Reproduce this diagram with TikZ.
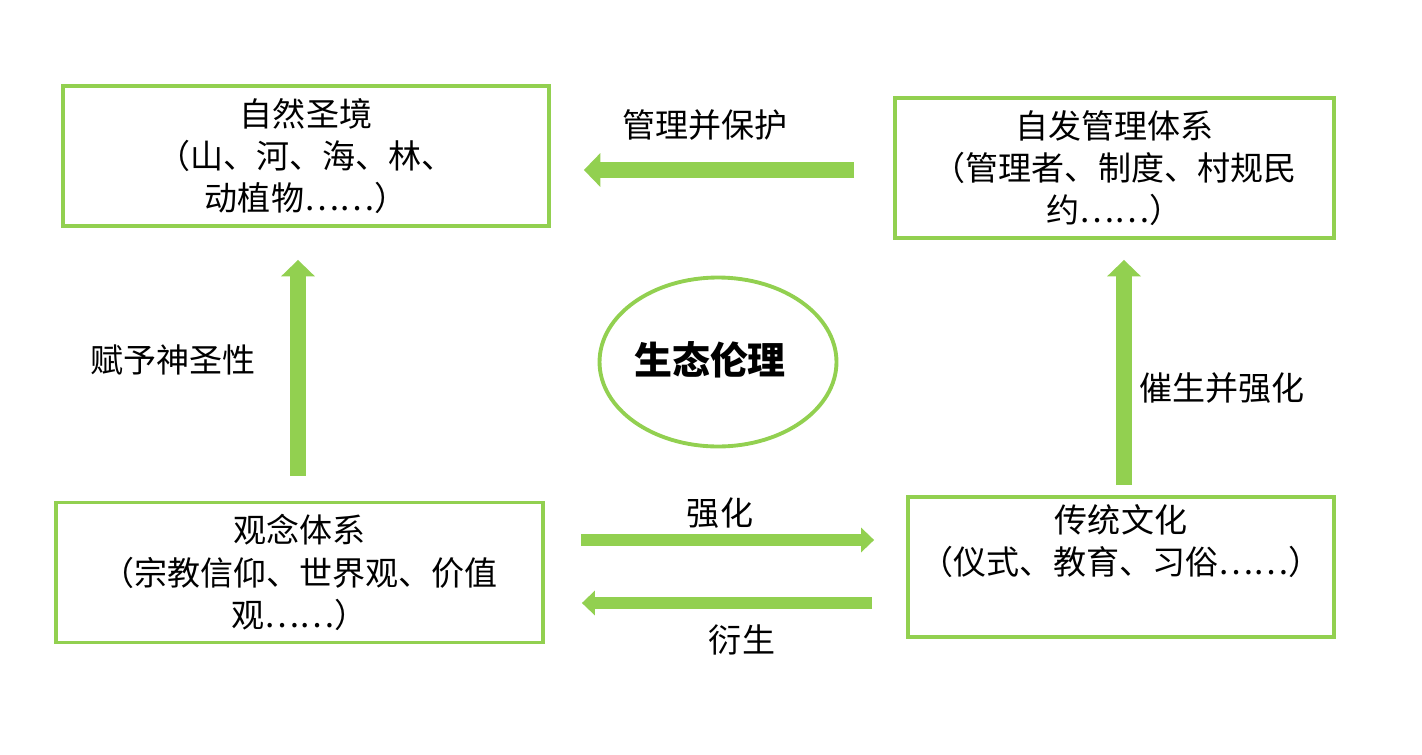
\documentclass[tikz,border=0pt]{standalone}
\usepackage{fontspec}
\newfontfamily\cjk{Noto Sans CJK SC}
\usepackage{tikz}
\usetikzlibrary{arrows.meta,shapes.geometric}

\definecolor{leafgreen}{HTML}{92D050}

\begin{document}
\begin{tikzpicture}[
  x=0.02cm, y=-0.02cm,
  font=\cjk\fontsize{18.8}{24}\selectfont,
  box/.style={draw=leafgreen,line width=2.2pt,align=center,minimum height=2.8cm,inner sep=0pt},
  label/.style={inner sep=0pt},
  bigarrow/.style={leafgreen,line width=0.33cm,-{Triangle[width=0.66cm,length=0.33cm]}},
  thinarrow/.style={leafgreen,line width=0.24cm,-{Triangle[width=0.48cm,length=0.26cm]}}
]
\useasboundingbox (0,0) rectangle (1422,754);

\node[box,minimum width=9.72cm] (nature) at (306,156) {自然圣境\\（山、河、海、林、\\动植物……）};
\node[box,minimum width=8.78cm] (manage) at (1114.5,168) {自发管理体系\\（管理者、制度、村规民\\约……）};
\node[box,minimum width=9.74cm] (belief) at (299.5,572.5) {观念体系\\（宗教信仰、世界观、价值\\观……）};
\node[box,minimum width=8.52cm] (culture) at (1121,567) {传统文化\\（仪式、教育、习俗……）\\\strut};
\node[ellipse,draw=leafgreen,line width=2.2pt,minimum width=4.74cm,minimum height=3.38cm] (ethic) at (718,362) {};
\node[label,font=\cjk\bfseries\fontsize{21.6}{26}\selectfont] (ethictxt) at (710,360) {生态伦理};

\draw[bigarrow,shorten <=0.78cm,shorten >=0.66cm] (manage.west |- 0,170) -- (nature.east |- 0,170);
\draw[bigarrow,shorten <=0.5cm,shorten >=0.64cm] (belief.north -| 298,0) -- (nature.south -| 298,0);
\draw[bigarrow,shorten <=0.2cm,shorten >=0.4cm] (culture.north -| 1124,0) -- (manage.south -| 1124,0);
\draw[thinarrow,shorten <=0.72cm,shorten >=0.64cm] (belief.east |- 0,540) -- (culture.west |- 0,540);
\draw[thinarrow,shorten <=0.68cm,shorten >=0.74cm] (culture.west |- 0,603) -- (belief.east |- 0,603);

\node[label] (l1) at (705,125) {管理并保护};
\node[label] (l2) at (173,360) {赋予神圣性};
\node[label] (l3) at (1222,388) {催生并强化};
\node[label] (l4) at (720,513) {强化};
\node[label] (l5) at (742,640) {衍生};
\end{tikzpicture}
\end{document}
